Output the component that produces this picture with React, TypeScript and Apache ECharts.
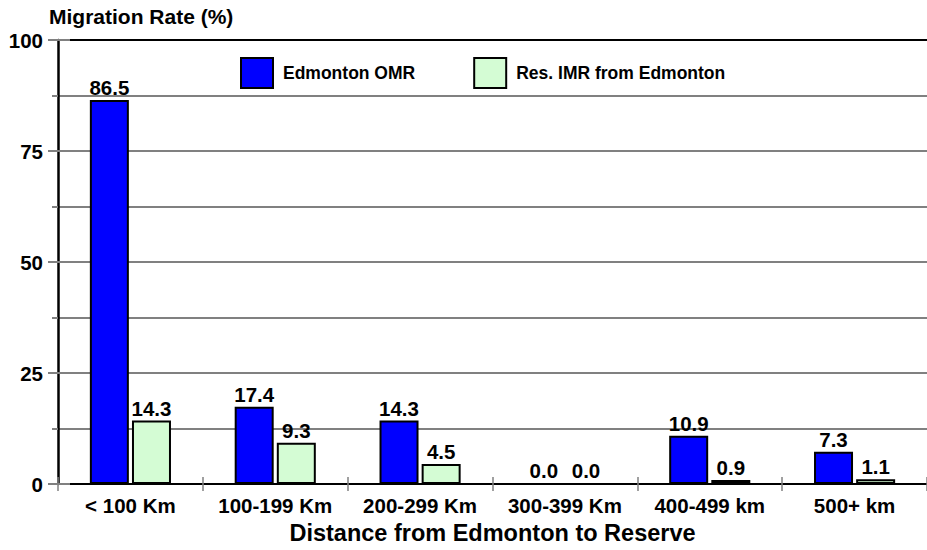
import React, { useEffect, useRef } from "react";
import * as echarts from "echarts";

const categories = ["< 100 Km", "100-199 Km", "200-299 Km", "300-399 Km", "400-499 km", "500+ km"];
const omrValues = [86.5, 17.4, 14.3, 0.0, 10.9, 7.3];
const imrValues = [14.3, 9.3, 4.5, 0.0, 0.9, 1.1];
const seriesNames = ["Edmonton OMR", "Res. IMR from Edmonton"];
const yTitle = "Migration Rate (%)";
const xTitle = "Distance from Edmonton to Reserve";

const FONT = "'Liberation Sans', Arial, sans-serif";
const GRAY = "#808080";

export default function App() {
  const ref = useRef<HTMLDivElement>(null);
  useEffect(() => {
    if (!ref.current) return;
    const chart = echarts.init(ref.current, undefined, { renderer: "svg" });
    const labelStyle = {
      show: true,
      position: "top",
      distance: 2,
      formatter: (p: any) => Number(p.value).toFixed(1),
      color: "#000",
      fontFamily: FONT,
      fontWeight: "bold",
      fontSize: 20.5,
    };
    chart.setOption({
      animation: false,
      backgroundColor: "#fff",
      title: {
        text: yTitle,
        left: 49,
        top: 6,
        padding: 0,
        textStyle: { fontFamily: FONT, fontWeight: "bold", fontSize: 21, color: "#000" },
      },
      legend: {
        left: 235,
        top: 52,
        itemWidth: 32,
        itemHeight: 30,
        itemGap: 58,
        icon: "rect",
        textStyle: { fontFamily: FONT, fontWeight: "bold", fontSize: 17.5, color: "#000", padding: [0, 0, 0, 5] },
        data: seriesNames,
      },
      grid: { left: 58, top: 40, right: -10, bottom: 60 },
      xAxis: [
        {
          type: "category",
          data: categories,
          position: "bottom",
          axisLine: { show: true, lineStyle: { color: "#000", width: 2 } },
          axisTick: { show: true, length: 7, lineStyle: { color: GRAY, width: 1.5 } },
          axisLabel: { margin: 11, color: "#000", fontFamily: FONT, fontWeight: "bold", fontSize: 20.5, interval: 0 },
          name: xTitle,
          nameLocation: "middle",
          nameGap: 35,
          nameTextStyle: { fontFamily: FONT, fontWeight: "bold", fontSize: 23.5, color: "#000" },
        },
        {
          type: "category",
          data: categories,
          position: "bottom",
          axisLine: { show: false },
          axisTick: { show: true, inside: true, length: 7, lineStyle: { color: GRAY, width: 1.5 } },
          axisLabel: { show: false },
        },
      ],
      yAxis: [
        {
          type: "value",
          min: 0,
          max: 100,
          interval: 25,
          axisLine: { show: true, lineStyle: { color: "#000", width: 2.5 } },
          axisTick: { show: true, length: 10, lineStyle: { color: GRAY, width: 2 } },
          minorTick: { show: true, splitNumber: 2, length: 6, lineStyle: { color: GRAY, width: 2 } },
          splitLine: { show: true, lineStyle: { color: [GRAY, GRAY, GRAY, GRAY, "#000"], width: 2 } },
          minorSplitLine: { show: true, lineStyle: { color: GRAY, width: 2 } },
          axisLabel: { margin: 15, color: "#000", fontFamily: FONT, fontWeight: "bold", fontSize: 20.5 },
        },
        {
          type: "value",
          min: 0,
          max: 100,
          interval: 25,
          position: "left",
          axisLine: { show: false },
          axisTick: { show: true, inside: true, length: 12, lineStyle: { color: GRAY, width: 2 } },
          splitLine: { show: false },
          axisLabel: { show: false },
        },
      ],
      series: [
        {
          name: seriesNames[0],
          type: "bar",
          data: omrValues,
          barWidth: 39,
          barGap: "8%",
          itemStyle: { color: "#0000ff", borderColor: "#000", borderWidth: 2 },
          label: labelStyle,
          z: 3,
        },
        {
          name: seriesNames[1],
          type: "bar",
          data: imrValues,
          barWidth: 39,
          barGap: "8%",
          itemStyle: { color: "#d4fcd4", borderColor: "#000", borderWidth: 2 },
          label: labelStyle,
          z: 3,
        },
      ],
    });
    return () => chart.dispose();
  }, []);
  return (
    <div
      ref={ref}
      style={{ position: "absolute", left: 0, top: 0, width: 927, height: 550 }}
    />
  );
}
